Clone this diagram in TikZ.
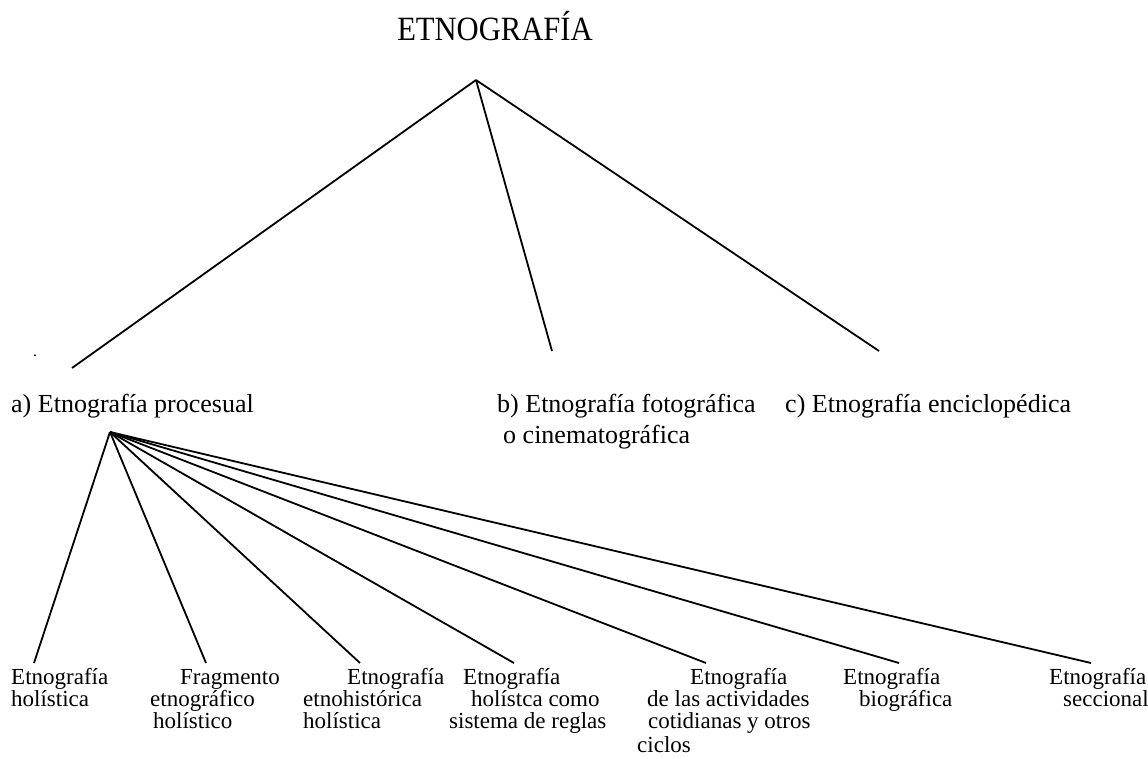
\documentclass[tikz,border=0pt]{standalone}
\usepackage{fontspec}
\setmainfont{Liberation Serif}
\begin{document}
\begin{tikzpicture}[x=1pt,y=-1pt,
  branch/.style={draw=black,line width=1.8pt},
  ttl/.style={inner sep=0pt,anchor=base,font=\fontsize{34}{34}\selectfont},
  mid/.style={inner sep=0pt,anchor=base west,font=\fontsize{26}{26}\selectfont},
  leaf/.style={inner sep=0pt,anchor=base west,font=\fontsize{23}{23}\selectfont}]
\useasboundingbox (0,0) rectangle (1148,756);

% title and the three main kinds
\node[ttl] (title) at (495,40) {\scalebox{0.9}[1]{ETNOGRAFÍA}};
\coordinate (apex) at (476,80);
\coordinate (ea) at (72,368);
\coordinate (eb) at (552,351);
\coordinate (ec) at (879,351);
\node[inner sep=0pt,anchor=base,font=\fontsize{16}{16}\selectfont] (dot) at (35,356) {.};

\node[mid] (a) at (11,412) {a) Etnografía procesual};
\node[mid] (b1) at (497,412) {b) Etnografía fotográfica};
\node[mid] (b2) at (503,443) {o cinematográfica};
\node[mid] (c) at (785,412) {c) Etnografía enciclopédica};

\draw[branch] (apex) -- (ea);
\draw[branch] (apex) -- (eb);
\draw[branch] (apex) -- (ec);

% subtypes of the processual ethnography
\coordinate (hub) at (110,432);
\coordinate (e1) at (34,663);
\coordinate (e2) at (206,663);
\coordinate (e3) at (360,663);
\coordinate (e4) at (514,663);
\coordinate (e5) at (706,663);
\coordinate (e6) at (899,663);
\coordinate (e7) at (1091,663);
\foreach \e in {e1,e2,e3,e4,e5,e6,e7}
  \draw[branch] (hub) -- (\e);

\node[leaf] (l1a) at (11,684) {Etnografía};
\node[leaf] (l1b) at (11,706) {holística};

\node[leaf] (l2a) at (180,684) {Fragmento};
\node[leaf] (l2b) at (150,706) {etnográfico};
\node[leaf] (l2c) at (153,728) {holístico};

\node[leaf] (l3a) at (347,684) {Etnografía};
\node[leaf] (l3b) at (303,706) {etnohistórica};
\node[leaf] (l3c) at (303,728) {holística};

\node[leaf] (l4a) at (463,684) {Etnografía};
\node[leaf] (l4b) at (471,706) {holístca como};
\node[leaf] (l4c) at (449,728) {sistema de reglas};

\node[leaf] (l5a) at (690,684) {Etnografía};
\node[leaf] (l5b) at (647,706) {de las actividades};
\node[leaf] (l5c) at (648,728) {cotidianas y otros};
\node[leaf] (l5d) at (637,752) {ciclos};

\node[leaf] (l6a) at (843,684) {Etnografía};
\node[leaf] (l6b) at (859,706) {biográfica};

\node[leaf] (l7a) at (1049,684) {Etnografía};
\node[leaf] (l7b) at (1063,706) {seccional};
\end{tikzpicture}
\end{document}
